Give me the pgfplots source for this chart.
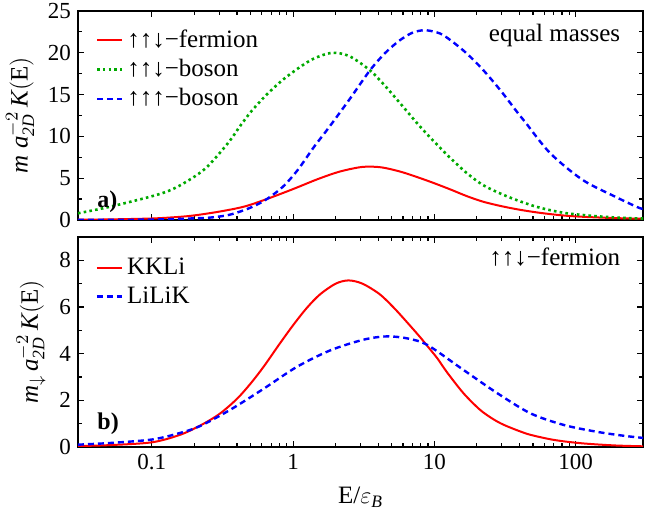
\documentclass[border=0pt]{standalone}
\usepackage{fontspec}
\setmainfont{Liberation Serif}
\usepackage{pgfplots}
\pgfplotsset{compat=1.18}
\definecolor{mred}{RGB}{255,0,0}
\definecolor{mgreen}{RGB}{0,170,0}
\definecolor{mblue}{RGB}{0,0,255}

\tikzset{
  fermion/.style={mred, line width=1pt, smooth},
  bosond/.style={mgreen, line width=1.3pt, dash pattern=on 1.3pt off 1.6pt, smooth},
  bosonu/.style={mblue, line width=1.2pt, dash pattern=on 3pt off 2pt, smooth},
}

\begin{document}
\begin{tikzpicture}
% lower panel
\begin{axis}[
  scale only axis,
  width=282.5pt, height=105pt,
  at={(0,0)}, anchor=south west,
  xmode=log,
  xmin=0.03, xmax=300,
  xtick={0.1,1,10,100},
  xticklabels={0.1,1,10,100},
  ymin=0, ymax=9,
  ytick={0,2,4,6,8},
  minor y tick num=1,
  axis line style={line width=0.8pt},
  major tick length=3pt,
  minor tick length=1.8pt,
  tick style={black, line width=0.6pt},
  tick label style={font=\fontsize{11.5}{13}\selectfont},
  label style={font=\fontsize{12.5}{14}\selectfont},
  xlabel style={yshift=-2pt},
  /pgf/number format/assume math mode=true,
  xlabel={E/$\varepsilon_{\mathit{B}}$},
  ylabel={$\mathit{m}_{\downarrow}\,\mathit{a}_{\mathit{2D}}^{-2}\,\mathit{K}(\mathrm{E})$},
  legend cell align=left,
  legend style={draw=none, fill=none, anchor=north west,
    at={(rel axis cs:0.02,0.94)},
    font=\fontsize{12.5}{15}\selectfont, row sep=0.5pt},
  legend image code/.code={\draw[#1] (0pt,0pt) -- (12.5pt,0pt);},
]
\addplot[fermion] coordinates {
 (0.03,0.04) (0.05,0.08) (0.1,0.2) (0.158,0.52) (0.22,0.92) (0.3,1.41)
 (0.4,2.06) (0.5,2.72) (0.62,3.45) (0.8,4.41) (1.0,5.22) (1.25,5.96)
 (1.55,6.54) (2.0,7.0) (2.47,7.14) (3.1,7.0) (4.1,6.55) (5.2,5.95)
 (6.4,5.35) (7.95,4.7) (9.0,4.3) (10.5,3.8) (12.3,3.2) (16.1,2.3)
 (21,1.6) (26,1.2) (31,0.95) (40,0.68) (48,0.52) (65,0.34) (83,0.24)
 (110,0.16) (142,0.11) (200,0.06) (300,0.03)
};
\addlegendentry{KKLi}
\addplot[bosonu] coordinates {
 (0.03,0.1) (0.05,0.17) (0.1,0.32) (0.158,0.6) (0.22,0.9) (0.36,1.6)
 (0.62,2.5) (1.06,3.43) (1.83,4.14) (3.15,4.6) (4.6,4.74) (6.5,4.65)
 (9.0,4.36) (16.1,3.3) (28,2.3) (48,1.44) (83,0.94) (142,0.65)
 (220,0.48) (300,0.39)
};
\addlegendentry{LiLiK}
\node[anchor=north east, font=\fontsize{12.5}{15}\selectfont]
  at (rel axis cs:0.972,0.984) {↑↑↓−fermion};
\node[anchor=base west, font=\fontsize{12}{14}\selectfont\bfseries]
  at (rel axis cs:0.022,0.081) {b)};
\end{axis}

% upper panel
\begin{axis}[
  scale only axis,
  width=282.5pt, height=104.5pt,
  at={(0,113.5pt)}, anchor=south west,
  xmode=log,
  xmin=0.03, xmax=300,
  xtick={0.1,1,10,100},
  xticklabels={},
  ymin=0, ymax=25,
  ytick={0,5,10,15,20,25},
  minor y tick num=1,
  axis line style={line width=0.8pt},
  major tick length=3pt,
  minor tick length=1.8pt,
  tick style={black, line width=0.6pt},
  tick label style={font=\fontsize{11.5}{13}\selectfont},
  label style={font=\fontsize{12.5}{14}\selectfont},
  /pgf/number format/assume math mode=true,
  ylabel={$\mathit{m}\;\mathit{a}_{\mathit{2D}}^{-2}\,\mathit{K}(\mathrm{E})$},
  legend cell align=left,
  legend style={draw=none, fill=none, anchor=north west,
    at={(rel axis cs:0.02,0.951)},
    font=\fontsize{12.5}{15}\selectfont, row sep=0.5pt},
  legend image code/.code={\draw[#1] (0pt,0pt) -- (12.5pt,0pt);},
]
\addplot[fermion] coordinates {
 (0.03,0.03) (0.05,0.07) (0.1,0.18) (0.15,0.35) (0.2,0.55) (0.3,1.0)
 (0.45,1.6) (0.65,2.5) (1.0,3.7) (1.5,4.9) (2.15,5.8) (3.1,6.35)
 (4.2,6.3) (5.7,5.8) (7.5,5.15) (9.8,4.45) (13,3.65) (17,2.85) (22,2.2)
 (29,1.7) (38,1.3) (50,0.97) (65,0.72) (87,0.5) (120,0.36) (180,0.24)
 (256,0.17) (300,0.15)
};
\addlegendentry{↑↑↓−fermion}
\addplot[bosond] coordinates {
 (0.03,0.8) (0.051,1.6) (0.108,3.0) (0.153,4.0) (0.237,6.1) (0.346,9.2)
 (0.42,11.2) (0.506,13.0) (0.65,15.0) (0.85,16.8) (1.12,18.3) (1.4,19.3)
 (1.88,20.0) (2.5,19.6) (3.5,17.9) (4.5,16.0) (5.7,14.0) (7.1,12.1)
 (8.2,10.9) (9.8,9.5) (13,7.4) (17,5.6) (22,4.2) (29,3.2) (38,2.4)
 (50,1.7) (65,1.2) (87,0.8) (130,0.5) (190,0.3) (256,0.2) (300,0.18)
};
\addlegendentry{↑↑↓−boson}
\addplot[bosonu] coordinates {
 (0.03,0.01) (0.1,0.05) (0.2,0.2) (0.263,0.3) (0.35,0.6) (0.454,1.2)
 (0.55,1.8) (0.665,2.6) (0.85,4.0) (1.08,6.0) (1.4,8.7) (1.78,11.0)
 (2.5,14.4) (3.5,17.9) (4.5,20.0) (5.7,21.5) (7.0,22.4) (8.6,22.7)
 (11,22.3) (13.5,21.3) (17,19.9) (22,18.0) (29.4,15.5) (39,12.8)
 (44,11.7) (66,8.0) (112,4.8) (190,2.8) (277,1.5) (300,1.35)
};
\addlegendentry{↑↑↑−boson}
\node[anchor=north east, font=\fontsize{12.5}{15}\selectfont]
  at (rel axis cs:0.972,0.97) {equal masses};
\node[anchor=base west, font=\fontsize{12}{14}\selectfont\bfseries]
  at (rel axis cs:0.022,0.062) {a)};
\end{axis}
\pgfresetboundingbox
\path (-39pt,-32.5pt) rectangle (294.5pt,223.5pt);
\end{tikzpicture}
\end{document}
